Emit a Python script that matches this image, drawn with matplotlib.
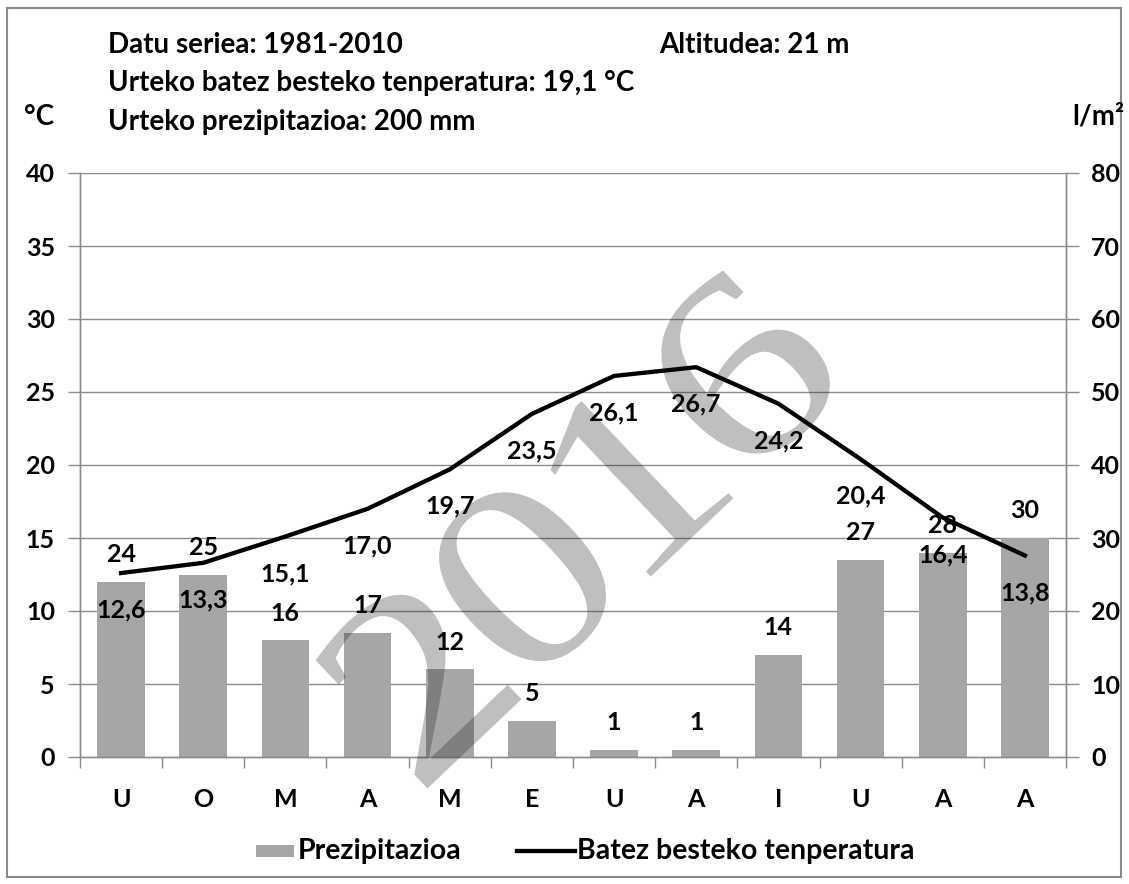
import math
import matplotlib
matplotlib.use("Agg")
import matplotlib.pyplot as plt
from matplotlib.patches import Rectangle, PathPatch
from matplotlib.textpath import TextPath
from matplotlib.font_manager import FontProperties
from matplotlib.transforms import Affine2D

months = ["U", "O", "M", "A", "M", "E", "U", "A", "I", "U", "A", "A"]
precip = [24, 25, 16, 17, 12, 5, 1, 1, 14, 27, 28, 30]
temp = [12.6, 13.3, 15.1, 17.0, 19.7, 23.5, 26.1, 26.7, 24.2, 20.4, 16.4, 13.8]
left_ticks = [0, 5, 10, 15, 20, 25, 30, 35, 40]
right_ticks = [0, 10, 20, 30, 40, 50, 60, 70, 80]
watermark = "2016"

FONT = "Lato"
W, H = 1129, 884
fig = plt.figure(figsize=(W / 100, H / 100), dpi=100)
fig.patch.set_facecolor("white")
fig.patches.append(Rectangle((7 / W, 1 - 877 / H), (1121 - 7) / W, (877 - 8) / H,
                             transform=fig.transFigure, fill=False,
                             edgecolor="#8a8a8a", lw=1.5))

ax = fig.add_axes([80 / W, (H - 757) / H, (1066 - 80) / W, (757 - 173) / H])
ax2 = ax.twinx()
ax.set_zorder(ax2.get_zorder() + 1)
ax.patch.set_visible(False)

x = list(range(len(months)))
grid_c = "#8c8c8c"
fs = 18

# bars on right axis
ax2.bar(x, precip, width=0.58, color="#a6a6a6", zorder=2)
ax2.set_ylim(0, 80)
ax2.set_yticks(right_ticks)
ax2.set_yticklabels([str(v) for v in right_ticks], fontsize=fs, fontweight="bold", family=FONT)
ax2.tick_params(axis="y", length=9, width=1, color=grid_c, pad=9)
for v, xi in zip(precip, x):
    ax2.annotate(str(v), (xi, v), xytext=(0, 27), textcoords="offset pixels",
                 ha="center", va="center", fontsize=fs, fontweight="bold", family=FONT)

# line on left axis
ax.plot(x, temp, color="black", lw=3.1, zorder=4, solid_joinstyle="round")
for t, xi in zip(temp, x):
    ax.annotate(f"{t:.1f}".replace(".", ","), (xi, t), xytext=(0, -37), textcoords="offset pixels",
                ha="center", va="center", fontsize=fs, fontweight="bold", family=FONT, zorder=5)
ax.set_ylim(0, 40)
ax.set_xlim(-0.5, len(months) - 0.5)
ax.set_yticks(left_ticks)
ax.set_yticklabels([str(v) for v in left_ticks], fontsize=fs, fontweight="bold", family=FONT)
ax.tick_params(axis="y", length=9, width=1, color=grid_c, pad=9)
ax.set_xticks(x)
ax.set_xticklabels(months, fontsize=fs, fontweight="bold", family=FONT)
ax.tick_params(axis="x", which="major", length=0, pad=22)
ax.set_xticks([i - 0.5 for i in range(len(months) + 1)], minor=True)
ax.tick_params(axis="x", which="minor", length=8, width=1, color=grid_c)

for yv in left_ticks[1:]:
    ax2.axhline(yv * 2, color=grid_c, lw=1, zorder=1)

for a in (ax, ax2):
    a.spines["top"].set_visible(False)
    for s in ("left", "right", "bottom"):
        a.spines[s].set_color(grid_c)
        a.spines[s].set_linewidth(1)

# watermark: each glyph drawn as a text path (wide glyphs, tight spacing), in pixel coordinates
ang = 43.5
step = 150
wx, wy = 576, H - 524
ca, sa = math.cos(math.radians(ang)), math.sin(math.radians(ang))
n = len(watermark)
for i, ch in enumerate(watermark):
    tp = TextPath((0, 0), ch, size=265, prop=FontProperties(family="Liberation Serif"))
    ext = tp.get_extents()
    gx, gy = (ext.x0 + ext.x1) / 2, (ext.y0 + 265 * 0.676) / 2
    off = (i - (n - 1) / 2) * step
    tr = (Affine2D().translate(-gx, -gy).scale(1.22, 1.0).rotate_deg(ang)
          .translate(wx + off * ca, wy + off * sa))
    fig.patches.append(PathPatch(tp, transform=tr, facecolor="#1a1a1a", edgecolor="none",
                                 alpha=0.28, zorder=10))

# header texts
tk = dict(fontsize=20, fontweight="bold", family=FONT, va="center")
fig.text(108 / W, 1 - 45 / H, "Datu seriea: 1981-2010", **tk)
fig.text(659 / W, 1 - 45 / H, "Altitudea: 21 m", **tk)
fig.text(108 / W, 1 - 83 / H, "Urteko batez besteko tenperatura: 19,1 °C", **tk)
fig.text(108 / W, 1 - 122 / H, "Urteko prezipitazioa: 200 mm", **tk)
fig.text(24 / W, 1 - 117 / H, "°C", **tk)
fig.text(1072 / W, 1 - 117 / H, "l/m²", **tk)

# legend
lk = dict(tk, fontsize=20.5)
fig.patches.append(Rectangle((256 / W, 1 - 857 / H), 38 / W, 12 / H, transform=fig.transFigure,
                             facecolor="#a6a6a6", edgecolor="none"))
fig.text(298 / W, 1 - 851 / H, "Prezipitazioa", **lk)
fig.lines.append(plt.Line2D([517 / W, 575 / W], [1 - 851 / H, 1 - 851 / H],
                            transform=fig.transFigure, color="black", lw=3.1))
fig.text(577 / W, 1 - 851 / H, "Batez besteko tenperatura", **lk)

fig.savefig("out.png", dpi=100)
